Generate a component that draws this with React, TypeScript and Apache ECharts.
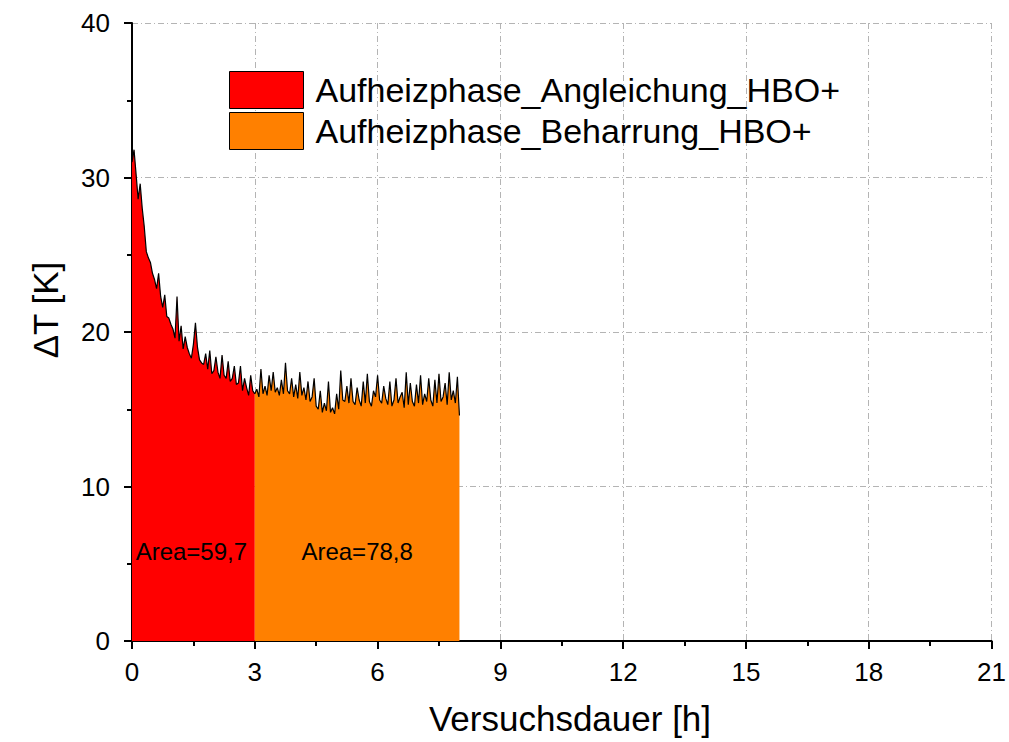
import React, { useEffect, useRef } from "react";
import * as echarts from "echarts";

// Sample spacing of the logged temperature difference, in hours
const TIME_STEP = 0.05;

// ΔT [K] during the adjustment phase, 0 h … 3 h
const angleichung: number[] = [
  31.0, 31.8, 30.2, 28.6, 29.6, 28.0, 26.8, 25.2, 24.8, 24.5,
  23.8, 23.4, 22.8, 23.8, 22.3, 21.6, 22.4, 21.0, 20.9, 20.5,
  20.2, 19.6, 22.3, 19.4, 20.4, 18.9, 19.7, 19.0, 18.6, 18.3,
  19.2, 20.6, 19.0, 18.2, 18.0, 17.9, 18.6, 17.6, 18.8, 17.3,
  17.5, 18.4, 17.4, 17.0, 18.5, 17.2, 17.0, 18.1, 16.8, 17.0,
  17.8, 16.6, 16.7, 17.8, 16.2, 17.0, 16.4, 15.9, 17.2, 16.2,
  16.0,
];

// ΔT [K] during the steady-state phase, 3 h … 8 h (first value shared with the phase above)
const beharrung: number[] = [
  16.0, 16.3, 15.8, 17.6, 16.0, 16.5, 15.9, 17.2, 16.2, 17.4,
  16.1, 16.4, 15.9, 16.9, 16.0, 18.0, 16.2, 16.0, 17.0, 15.8,
  16.6, 15.7, 17.4, 15.9, 16.4, 15.6, 16.8, 15.5, 15.8, 17.0,
  15.2, 15.0, 16.2, 14.8, 15.4, 14.9, 16.8, 14.8, 15.1, 14.7,
  16.0, 15.0, 17.5, 15.6, 15.5, 16.5, 15.4, 17.0, 15.5, 15.3,
  16.4, 15.6, 15.2, 16.8, 15.4, 17.3, 15.5, 15.2, 16.2, 15.8,
  17.2, 15.6, 15.4, 16.5, 15.7, 15.3, 16.8, 15.2, 15.6, 17.0,
  15.4, 15.8, 16.1, 15.1, 17.4, 15.3, 16.7, 15.5, 15.2, 16.6,
  15.4, 17.2, 15.3, 16.0, 15.5, 17.0, 15.6, 15.2, 16.9, 15.4,
  17.3, 15.5, 15.8, 16.7, 15.3, 17.4, 15.6, 16.2, 15.4, 17.1,
  14.6,
];

const phaseStart = [0, 3];
const seriesNames = ["Aufheizphase_Angleichung_HBO+", "Aufheizphase_Beharrung_HBO+"];
const areaLabels = ["Area=59,7", "Area=78,8"];
const areaLabelPos: [number, number][] = [
  [1.45, 5.8],
  [5.5, 5.8],
];
const fillColors = ["#ff0000", "#ff8000"];
const xTitle = "Versuchsdauer [h]";
const yTitle = "ΔT [K]";

const FONT = "'Liberation Sans', Arial, sans-serif";

function toPairs(values: number[], start: number): [number, number][] {
  return values.map((v, i) => [+(start + i * TIME_STEP).toFixed(2), v]);
}

export default function App() {
  const ref = useRef<HTMLDivElement>(null);

  useEffect(() => {
    if (!ref.current) return;
    document.body.style.margin = "0";
    document.body.style.overflow = "hidden";
    const chart = echarts.init(ref.current, null, { renderer: "svg" });

    const splitLine = {
      show: true,
      lineStyle: { color: "#b4b4b4", width: 1, type: [6, 3, 1, 3] as number[] },
    };
    const axisLine = { show: true, onZero: false, lineStyle: { color: "#000", width: 2 } };
    const axisTick = { show: true, inside: false, length: 8, lineStyle: { color: "#000", width: 2 } };
    const minorTick = { show: true, splitNumber: 2, length: 5, lineStyle: { color: "#000", width: 2 } };

    const series = [angleichung, beharrung].map((vals, k) => ({
      name: seriesNames[k],
      type: "line",
      data: toPairs(vals, phaseStart[k]),
      showSymbol: false,
      symbol: "none",
      lineStyle: { color: "#000", width: 1.2 },
      itemStyle: { color: fillColors[k], borderColor: "#000", borderWidth: 1 },
      areaStyle: { color: fillColors[k], opacity: 1, origin: 0 },
      z: 2,
      markPoint: {
        symbol: "circle",
        symbolSize: 0,
        silent: true,
        label: {
          show: true,
          position: "inside",
          formatter: areaLabels[k],
          color: "#000",
          fontFamily: FONT,
          fontSize: 24,
        },
        data: [{ coord: areaLabelPos[k] }],
      },
    }));

    chart.setOption({
      animation: false,
      backgroundColor: "#fff",
      grid: { left: 132, right: 16, top: 23, bottom: 101, containLabel: false },
      legend: {
        show: true,
        orient: "vertical",
        left: 229,
        top: 71,
        padding: 0,
        itemWidth: 74,
        itemHeight: 37,
        itemGap: 3,
        icon: "rect",
        data: seriesNames.map((n, k) => ({
          name: n,
          itemStyle: { color: fillColors[k], borderColor: "#000", borderWidth: 1 },
        })),
        textStyle: { fontFamily: FONT, fontSize: 34, color: "#000", padding: [0, 0, 0, 7] },
      },
      graphic: [
        {
          type: "text",
          x: 570,
          y: 718,
          style: {
            text: xTitle,
            fontFamily: FONT,
            fontSize: 35,
            fill: "#000",
            align: "center",
            verticalAlign: "middle",
          },
        },
        {
          type: "text",
          x: 45,
          y: 310,
          rotation: Math.PI / 2,
          style: {
            text: yTitle,
            fontFamily: FONT,
            fontSize: 35,
            fill: "#000",
            align: "center",
            verticalAlign: "middle",
          },
        },
      ],
      xAxis: {
        type: "value",
        min: 0,
        max: 21,
        interval: 3,
        axisLine,
        axisTick,
        minorTick,
        axisLabel: { fontFamily: FONT, fontSize: 26, color: "#000", margin: 18 },
        splitLine,
      },
      yAxis: {
        type: "value",
        min: 0,
        max: 40,
        interval: 10,
        axisLine,
        axisTick,
        minorTick,
        axisLabel: { fontFamily: FONT, fontSize: 26, color: "#000", margin: 22 },
        splitLine,
      },
      series,
    });

    return () => chart.dispose();
  }, []);

  return (
    <div
      ref={ref}
      style={{ position: "fixed", left: 0, top: 0, width: 1009, height: 742, overflow: "hidden" }}
    />
  );
}
